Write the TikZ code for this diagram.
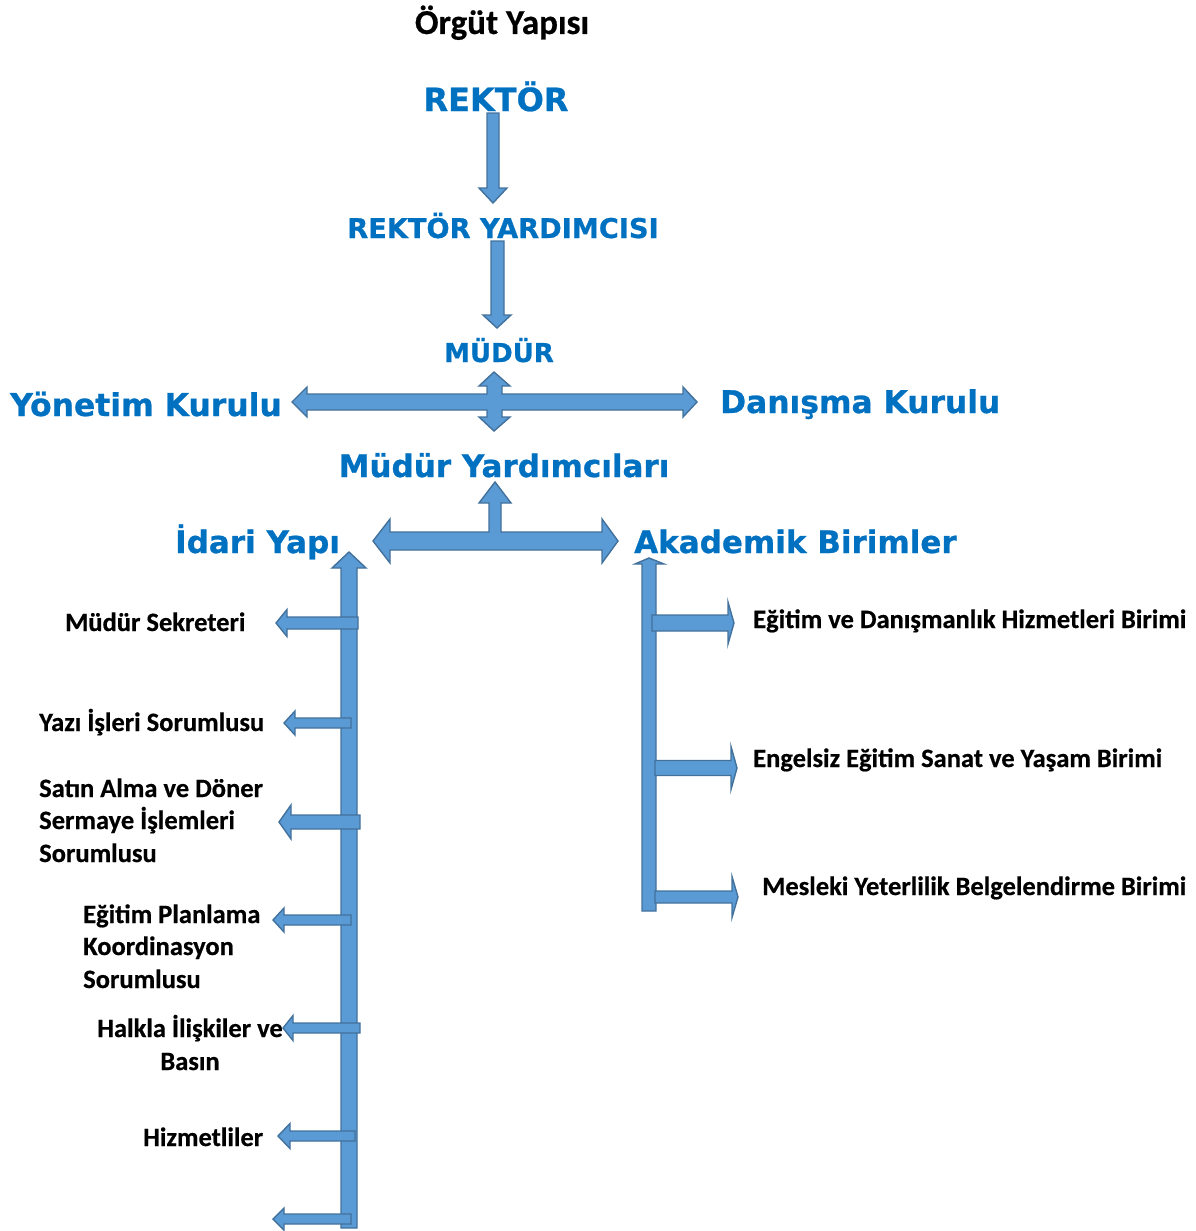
\documentclass[tikz,border=0pt]{standalone}
\usepackage{fontspec}
\newfontfamily\hfont{DejaVu Sans}[BoldFeatures={FakeBold=0.8}]
\newfontfamily\lfont{Carlito}[BoldFeatures={FakeBold=0.5}]
\definecolor{tblue}{HTML}{0070C0}
\definecolor{afill}{HTML}{5B9BD5}
\definecolor{aline}{HTML}{41719C}
\newcommand{\LArr}[6]{\draw[blk] (#1,#2) -- ({#1+#6},{#2-#5}) -- ({#1+#6},{#2-#4}) -- (#3,{#2-#4}) -- (#3,{#2+#4}) -- ({#1+#6},{#2+#4}) -- ({#1+#6},{#2+#5}) -- cycle;}
\newcommand{\RArr}[6]{\draw[blk] (#1,{#2-#4}) -- ({#3-#6},{#2-#4}) -- ({#3-#6},{#2-#5}) -- (#3,#2) -- ({#3-#6},{#2+#5}) -- ({#3-#6},{#2+#4}) -- (#1,{#2+#4}) -- cycle;}
\begin{document}
\begin{tikzpicture}[x=1pt,y=-1pt,
  blk/.style={fill=afill,draw=aline,line width=1.4pt,line join=miter},
  head/.style={inner sep=0pt,text=tblue,font=\hfont\bfseries},
  lbl/.style={inner sep=0pt,text=black,font=\lfont\bfseries\fontsize{26.5}{32.5}\selectfont}]
\useasboundingbox (0,0) rectangle (1196,1231);
% titles
\node[inner sep=0pt,anchor=base,font=\lfont\bfseries\fontsize{35}{40}\selectfont] (title) at (502,34) {Örgüt Yapısı};
\node[head,anchor=base,font=\hfont\bfseries\fontsize{32}{38}\selectfont] (rektor) at (496,111) {REKTÖR};
\node[head,anchor=base,font=\hfont\bfseries\fontsize{27.2}{32}\selectfont] (ry) at (503,238) {REKTÖR YARDIMCISI};
\node[head,anchor=base,font=\hfont\bfseries\fontsize{26}{32}\selectfont] (mudur) at (499,362) {MÜDÜR};
\node[head,anchor=base west,font=\hfont\bfseries\fontsize{31.4}{38}\selectfont] (yk) at (10,416) {Yönetim Kurulu};
\node[head,anchor=base west,font=\hfont\bfseries\fontsize{31.3}{38}\selectfont] (dk) at (720,413) {Danışma Kurulu};
\node[head,anchor=base,font=\hfont\bfseries\fontsize{31}{38}\selectfont] (my) at (504,477) {Müdür Yardımcıları};
\node[head,anchor=base west,font=\hfont\bfseries\fontsize{31}{38}\selectfont] (iy) at (175,553) {İdari Yapı};
\node[head,anchor=base west,font=\hfont\bfseries\fontsize{31}{38}\selectfont] (ab) at (634,553) {Akademik Birimler};
% down arrows
\draw[blk] (487,113) -- (499,113) -- (499,188) -- (507,188) -- (493,203) -- (479,188) -- (487,188) -- cycle;
\draw[blk] (491,241) -- (504,241) -- (504,315) -- (511,315) -- (497,328) -- (483,315) -- (491,315) -- cycle;
% cross arrow
\draw[blk] (292,402) -- (307,387) -- (307,394) -- (487,394) -- (487,386) -- (479,386) -- (494,372) -- (510,386) -- (502,386) -- (502,394) -- (683,394) -- (683,387) -- (697,402) -- (683,417) -- (683,410) -- (502,410) -- (502,417) -- (510,417) -- (494,431) -- (479,417) -- (487,417) -- (487,410) -- (307,410) -- (307,417) -- cycle;
% T arrow
\draw[blk] (373,541) -- (390,519) -- (390,532) -- (489,532) -- (489,503) -- (479,503) -- (495,482) -- (511,503) -- (501,503) -- (501,532) -- (602,532) -- (602,519) -- (618,541) -- (602,563) -- (602,550) -- (390,550) -- (390,563) -- cycle;
% left vertical
\draw[blk] (341,1228) -- (341,568) -- (332,568) -- (349,552) -- (366,568) -- (357,568) -- (357,1228) -- cycle;
% right vertical
\draw[blk] (642,911) -- (642,564) -- (635,564) -- (649,558) -- (664,564) -- (656,564) -- (656,911) -- cycle;
% left branches
\LArr{276}{623}{358}{6}{13.5}{11}
\LArr{284}{723}{351}{5}{12}{11}
\LArr{279}{822}{360}{7}{17}{12}
\LArr{273}{920}{351}{5}{12}{11}
\LArr{283}{1028}{360}{5}{12.5}{10}
\LArr{278}{1136}{355}{5}{12.5}{12}
\LArr{273}{1219}{351}{5}{11}{11}
% right branches
\RArr{652}{623}{734}{8}{21}{6}
\RArr{655}{768}{737}{7.5}{21.5}{6}
\RArr{655}{897}{738}{6}{20.5}{6}
% left labels
\node[lbl,anchor=base west] (ms) at (65,631) {Müdür Sekreteri};
\node[lbl,anchor=base west] (yi) at (39,731) {Yazı İşleri Sorumlusu};
\node[lbl,anchor=base west] (sa1) at (39,797) {Satın Alma ve Döner};
\node[lbl,anchor=base west] (sa2) at (39,829) {Sermaye İşlemleri};
\node[lbl,anchor=base west] (sa3) at (39,862) {Sorumlusu};
\node[lbl,anchor=base west] (ep1) at (83,923) {Eğitim Planlama};
\node[lbl,anchor=base west] (ep2) at (83,955) {Koordinasyon};
\node[lbl,anchor=base west] (ep3) at (83,988) {Sorumlusu};
\node[lbl,anchor=base] (hi1) at (190,1037) {Halkla İlişkiler ve};
\node[lbl,anchor=base] (hi2) at (190,1070) {Basın};
\node[lbl,anchor=base west] (hz) at (143,1146) {Hizmetliler};
% right labels
\node[lbl,anchor=base west] (ed) at (753,628) {Eğitim ve Danışmanlık Hizmetleri Birimi};
\node[lbl,anchor=base west] (ee) at (753,767) {Engelsiz Eğitim Sanat ve Yaşam Birimi};
\node[lbl,anchor=base west] (my2) at (762,895) {Mesleki Yeterlilik Belgelendirme Birimi};
\end{tikzpicture}
\end{document}
